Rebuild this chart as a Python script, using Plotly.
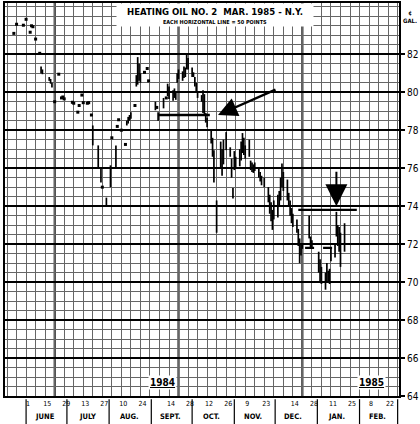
import plotly.graph_objects as go

# ---------------------------------------------------------------------------
# Heating Oil No. 2, March 1985 contract (N.Y.) - daily high/low, cents/gal
# ---------------------------------------------------------------------------

# thin early trading: single-price days
dot_dates = ['1984-05-23', '1984-05-25', '1984-05-30', '1984-06-01', '1984-06-04',
             '1984-06-05', '1984-06-06', '1984-06-08', '1984-06-11', '1984-06-22',
             '1984-06-25', '1984-06-27', '1984-06-28', '1984-06-29', '1984-07-05',
             '1984-07-06', '1984-07-09', '1984-07-10', '1984-07-12', '1984-07-13',
             '1984-07-16', '1984-07-17', '1984-07-19', '1984-07-27', '1984-08-03',
             '1984-08-07', '1984-08-08', '1984-08-10', '1984-08-13', '1984-08-20',
             '1984-08-27', '1984-08-29', '1984-08-30', '1984-09-05', '1984-09-12']
dot_prices = [83.10, 83.58, 83.53, 83.84, 83.16,
              83.50, 83.45, 82.80, 82.05, 79.50,
              80.95, 79.70, 79.75, 79.65, 79.47,
              79.42, 78.95, 79.30, 79.85, 79.45,
              79.42, 79.45, 78.80, 75.00, 77.60,
              78.20, 78.55, 78.00, 77.25, 79.30,
              81.05, 81.25, 80.60, 79.20, 79.70]

# daily ranges
bar_dates = ['1984-06-12', '1984-06-13', '1984-06-18', '1984-06-19', '1984-06-20',
             '1984-07-20', '1984-07-24', '1984-07-26', '1984-07-30', '1984-08-02',
             '1984-08-06', '1984-08-14', '1984-08-15', '1984-08-16', '1984-08-17',
             '1984-08-21', '1984-08-22', '1984-08-23', '1984-08-24', '1984-09-04',
             '1984-09-06', '1984-09-10', '1984-09-13', '1984-09-14', '1984-09-17',
             '1984-09-18', '1984-09-19', '1984-09-20', '1984-09-21', '1984-09-24',
             '1984-09-25', '1984-09-26', '1984-09-27', '1984-09-28', '1984-10-01',
             '1984-10-02', '1984-10-03', '1984-10-04', '1984-10-05', '1984-10-08',
             '1984-10-09', '1984-10-10', '1984-10-11', '1984-10-12', '1984-10-15',
             '1984-10-16', '1984-10-17', '1984-10-19', '1984-10-22', '1984-10-23',
             '1984-10-24', '1984-10-26', '1984-10-29', '1984-10-30', '1984-10-31',
             '1984-11-01', '1984-11-02', '1984-11-05', '1984-11-06', '1984-11-07',
             '1984-11-08', '1984-11-09', '1984-11-12', '1984-11-13', '1984-11-14',
             '1984-11-15', '1984-11-16', '1984-11-19', '1984-11-20', '1984-11-21',
             '1984-11-23', '1984-11-26', '1984-11-27', '1984-11-28', '1984-11-29',
             '1984-11-30', '1984-12-03', '1984-12-04', '1984-12-05', '1984-12-06',
             '1984-12-07', '1984-12-10', '1984-12-11', '1984-12-12', '1984-12-13',
             '1984-12-14', '1984-12-17', '1984-12-18', '1984-12-19', '1984-12-20',
             '1984-12-21', '1984-12-26', '1984-12-27', '1984-12-28', '1985-01-02',
             '1985-01-03', '1985-01-04', '1985-01-07', '1985-01-08', '1985-01-09',
             '1985-01-10', '1985-01-11', '1985-01-14', '1985-01-15', '1985-01-16',
             '1985-01-17', '1985-01-18', '1985-01-21']
bar_highs = [81.35, 81.20, 80.80, 80.70, 80.50,
             78.25, 77.20, 76.00, 74.45, 76.15,
             77.20, 78.50, 78.70, 78.80, 78.95,
             80.90, 81.85, 81.50, 81.00, 79.50,
             78.95, 79.70, 80.45, 80.30, 80.10,
             80.20, 80.00, 81.00, 81.20, 81.10,
             81.35, 81.30, 82.05, 81.80, 81.30,
             81.05, 80.80, 80.50, 80.00, 79.85,
             80.10, 79.90, 78.90, 78.65, 78.00,
             77.60, 76.95, 74.30, 77.40, 77.00,
             77.50, 77.90, 77.10, 76.50, 74.95,
             76.90, 76.60, 77.00, 77.40, 77.85,
             77.60, 77.20, 77.50, 76.40, 76.30,
             76.20, 76.30, 76.00, 75.80, 75.60,
             75.50, 75.00, 74.60, 74.20, 73.80,
             74.30, 74.60, 74.80, 75.50, 76.25,
             75.80, 75.40, 74.70, 74.30, 73.90,
             73.60, 73.30, 72.80, 72.30, 72.00,
             72.00, 73.50, 72.40, 72.20, 71.60,
             71.20, 70.80, 70.50, 71.00, 70.60,
             70.70, 71.80, 72.00, 73.70, 73.00,
             72.90, 72.60, 73.10]
bar_lows = [81.00, 80.95, 80.60, 80.45, 80.25,
            77.20, 76.00, 75.25, 74.05, 75.00,
            76.00, 78.25, 78.35, 78.50, 78.60,
            80.30, 80.40, 80.60, 80.50, 79.05,
            78.50, 79.15, 79.80, 79.65, 79.55,
            79.70, 79.60, 80.50, 80.70, 80.60,
            80.75, 80.80, 81.20, 81.20, 80.80,
            80.80, 80.30, 80.00, 79.70, 79.50,
            78.90, 78.80, 78.40, 78.15, 77.30,
            76.60, 75.25, 72.60, 76.00, 75.60,
            76.20, 76.95, 76.60, 75.50, 74.40,
            75.90, 76.00, 76.10, 76.40, 76.80,
            76.70, 76.50, 76.60, 75.90, 75.80,
            75.75, 75.85, 75.50, 75.30, 75.10,
            75.00, 74.20, 73.60, 73.20, 72.75,
            73.30, 73.40, 74.00, 74.30, 75.00,
            74.80, 74.30, 74.00, 73.50, 73.10,
            72.90, 72.60, 71.90, 71.00, 71.40,
            71.75, 72.30, 71.80, 71.80, 70.50,
            70.00, 69.90, 69.60, 70.00, 70.00,
            69.90, 71.10, 71.30, 72.40, 71.90,
            71.60, 70.80, 71.60]

# bottom axis labels (Fridays)
tick_dates = ['1984-06-01', '1984-06-15', '1984-06-29', '1984-07-13', '1984-07-27',
              '1984-08-10', '1984-08-24', '1984-09-14', '1984-09-28', '1984-10-12',
              '1984-10-26', '1984-11-09', '1984-11-23', '1984-12-14', '1984-12-28',
              '1985-01-11', '1985-01-25', '1985-02-08', '1985-02-22']
tick_text = ['1', '15', '29', '13', '27', '10', '24', '14', '28', '12',
             '26', '9', '23', '14', '28', '11', '25', '8', '22']

month_names = ['JUNE', 'JULY', 'AUG.', 'SEPT.', 'OCT.', 'NOV.', 'DEC.', 'JAN.', 'FEB.']
month_mid = ['1984-06-15', '1984-07-16', '1984-08-16', '1984-09-15', '1984-10-15',
             '1984-11-15', '1984-12-14', '1985-01-15', '1985-02-14']
month_starts = ['1984-06-01', '1984-07-01', '1984-08-01', '1984-09-01', '1984-10-01',
                '1984-11-01', '1984-12-01', '1985-01-01', '1985-02-01', '1985-03-01']
quarter_lines = ['1984-06-22', '1984-09-21', '1984-12-21']

price_ticks = [64, 66, 68, 70, 72, 74, 76, 78, 80, 82]

# drawn-in trend lines: (start, end, level)
line_sept = ('1984-09-06', '1984-10-14', 78.8)
line_dec = ('1984-12-18', '1985-01-30', 73.8)
line_dash = ('1984-12-23', '1985-01-18', 71.8)

FONT = 'Liberation Sans Narrow, DejaVu Sans Condensed, Arial Narrow, sans-serif'

# high-low segments
bx, by = [], []
for d, h, l in zip(bar_dates, bar_highs, bar_lows):
    bx += [d, d, None]
    by += [h, l, None]

fig = go.Figure()
fig.add_trace(go.Scatter(x=bx, y=by, mode='lines', line=dict(color='black', width=1.7),
                         hoverinfo='skip', showlegend=False))
fig.add_trace(go.Scatter(x=dot_dates, y=dot_prices, mode='markers',
                         marker=dict(symbol='square', size=3, color='black'),
                         showlegend=False))

# thick quarterly verticals
for q in quarter_lines:
    fig.add_shape(type='line', xref='x', yref='paper', x0=q, x1=q, y0=0, y1=1,
                  line=dict(color='black', width=2), layer='below')

# month separators under the axis
for m in month_starts:
    fig.add_shape(type='line', xref='x', yref='paper', x0=m, x1=m, y0=-0.008, y1=-0.075,
                  line=dict(color='black', width=1.2))
for name, d in zip(month_names, month_mid):
    fig.add_annotation(x=d, y=-0.053, xref='x', yref='paper', yanchor='middle',
                       text='<b>%s</b>' % name, showarrow=False,
                       font=dict(family=FONT, size=7.5, color='black'))

# trend lines
for (x0, x1, lvl), dash in [(line_sept, 'solid'), (line_dec, 'solid'), (line_dash, 'dash')]:
    fig.add_shape(type='line', xref='x', yref='y', x0=x0, x1=x1, y0=lvl, y1=lvl,
                  line=dict(color='black', width=2.3, dash=dash))

# arrows
fig.add_annotation(x='1984-10-20', y=78.8, ax=59, ay=-26, showarrow=True,
                   arrowhead=2, arrowsize=1.6, arrowwidth=2.4, arrowcolor='black', text='')
fig.add_annotation(x='1985-01-15', y=74.0, ax=0, ay=-36, showarrow=True,
                   arrowhead=2, arrowsize=2.2, arrowwidth=2, arrowcolor='black', text='')

# title block (white boxes hide the grid behind the heading)
fig.add_annotation(x=0.533, y=1.0, xref='paper', yref='paper', yanchor='top',
                   showarrow=False, width=196, height=14, bgcolor='white', borderpad=0,
                   text='<b>HEATING OIL NO. 2  MAR. 1985 - N.Y.</b>',
                   font=dict(family=FONT, size=9.5, color='black'))
fig.add_annotation(x=0.533, y=0.9645, xref='paper', yref='paper', yanchor='top',
                   showarrow=False, width=196, height=8, bgcolor='white', borderpad=0,
                   text='<b>EACH HORIZONTAL LINE = 50 POINTS</b>',
                   font=dict(family=FONT, size=5.5, color='black'))
fig.add_annotation(x=1.005, y=0.99, xref='paper', yref='paper', showarrow=False,
                   xanchor='left', text='<b>¢<br>GAL.</b>',
                   font=dict(family=FONT, size=6, color='black'))

# year markers
fig.add_annotation(x='1984-09-09', y=64.7, text='<b><u>1984</u></b>', showarrow=False,
                   bgcolor='white', font=dict(family=FONT, size=10, color='black'))
fig.add_annotation(x='1985-02-10', y=64.7, text='<b><u>1985</u></b>', showarrow=False,
                   bgcolor='white', font=dict(family=FONT, size=10, color='black'))

fig.update_xaxes(
    type='date', range=['1984-05-16 12:00', '1985-03-02'],
    tickvals=tick_dates, ticktext=tick_text, ticks='', ticklabelshift=2,
    tickfont=dict(family=FONT, size=7, color='black'),
    showgrid=True, gridcolor='#666', gridwidth=0.7,
    minor=dict(dtick=7 * 86400000, tick0='1984-06-01', showgrid=True,
               gridcolor='#666', gridwidth=0.7),
    showline=True, mirror=True, linecolor='black', linewidth=2, zeroline=False,
)
fig.update_yaxes(
    side='right', range=[64, 84.7], tickvals=price_ticks,
    ticks='outside', ticklen=4, tickwidth=2, tickcolor='black',
    tickfont=dict(family=FONT, size=10, color='black'),
    showgrid=True, gridcolor='black', gridwidth=1.8,
    minor=dict(dtick=0.5, tick0=64, showgrid=True, gridcolor='#666', gridwidth=0.7),
    showline=True, mirror=True, linecolor='black', linewidth=2, zeroline=False,
)

fig.update_layout(
    width=420, height=424,
    margin=dict(l=5, r=21, t=3, b=28, autoexpand=False),
    plot_bgcolor='white', paper_bgcolor='white',
    showlegend=False,
)

# page body default margin would shift the 420x424 figure out of the window
fig.write_html('out.html', config={'displayModeBar': False},
               post_script="document.body.style.margin='0';")
